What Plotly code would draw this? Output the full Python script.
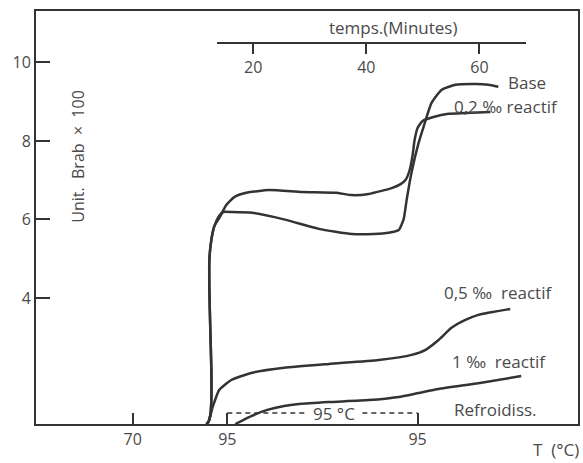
import plotly.graph_objects as go

# ---------------- data (x = time in minutes, y = Unit. Brab x 100) ----------------
base_t = [11.72, 12.07, 12.42, 12.60, 12.60, 12.42, 12.25, 12.25, 12.60, 13.13, 13.83, 14.71,
          16.30, 19.82, 25.81, 31.63, 37.44, 41.32, 43.96, 45.73, 46.61, 47.14, 48.02, 49.25,
          50.13, 51.54, 53.30, 55.77, 59.30, 61.59, 63.35]
base_y = [0.79, 0.84, 1.02, 1.40, 2.17, 3.18, 4.20, 4.97, 5.48, 5.83, 6.06, 6.19,
          6.19, 6.17, 5.99, 5.76, 5.63, 5.63, 5.66, 5.73, 6.01, 6.50, 7.21, 7.95,
          8.36, 8.97, 9.30, 9.43, 9.45, 9.43, 9.38]

r02_t = [11.72, 12.07, 12.42, 12.60, 12.60, 12.42, 12.25, 12.25, 12.60, 13.13, 14.01, 15.24,
         16.65, 18.77, 22.82, 28.63, 34.63, 37.44, 40.44, 44.49, 46.08, 46.96, 47.67, 48.19,
         48.55, 49.07, 49.96, 51.89, 54.54, 57.53, 61.94]
r02_y = [0.79, 0.84, 1.02, 1.40, 2.17, 3.18, 4.20, 4.97, 5.48, 5.83, 6.04, 6.37,
         6.57, 6.68, 6.75, 6.70, 6.68, 6.62, 6.65, 6.80, 6.90, 7.01, 7.26, 7.64,
         8.03, 8.33, 8.51, 8.61, 8.69, 8.71, 8.74]

r05_t = [11.72, 12.07, 12.42, 12.78, 13.13, 14.01, 16.12, 19.65, 25.46, 33.39, 42.20, 48.02,
         50.48, 52.78, 55.07, 57.53, 59.82, 65.46]
r05_y = [0.79, 0.84, 0.99, 1.20, 1.35, 1.66, 1.91, 2.09, 2.22, 2.32, 2.42, 2.55,
         2.68, 2.93, 3.24, 3.44, 3.57, 3.72]

r1_t = [16.83, 18.24, 19.65, 22.47, 25.46, 28.11, 33.39, 40.44, 45.73, 49.25, 52.78, 59.82, 67.40]
r1_y = [0.79, 0.89, 0.99, 1.15, 1.25, 1.30, 1.35, 1.40, 1.48, 1.58, 1.68, 1.83, 2.01]

temp_tick_min = [-1.32, 15.42, 49.07]
temp_tick_text = ["70", "95", "95"]
time_ticks = [20, 40, 60]
y_ticks = [4, 6, 8, 10]

hold_start, hold_end, hold_level = 15.42, 49.07, 1.07
hold_label_min, hold_gap = 34.3, 5.0

x_range = [-18.41, 77.44]
y_range = [0.79, 11.31]
time_axis_range = [13.66, 68.28]

# ---------------- styling ----------------
INK = "#333333"
TXT = "#4a4a4a"
FONT = "Open Sans"

fig = go.Figure()
for t, y in [(base_t, base_y), (r02_t, r02_y), (r05_t, r05_y), (r1_t, r1_y)]:
    fig.add_trace(go.Scatter(x=t, y=y, mode="lines",
                             line=dict(color=INK, width=2.5, shape="spline", smoothing=0.5),
                             showlegend=False, hoverinfo="skip"))

# placeholder trace so the time axis (x2) is drawn
fig.add_trace(go.Scatter(x=time_ticks, y=[None] * len(time_ticks), xaxis="x2", yaxis="y",
                         mode="markers", showlegend=False, hoverinfo="skip"))

axis_common = dict(showline=True, linewidth=2, linecolor=INK, showgrid=False, zeroline=False,
                   tickcolor=INK, tickwidth=1.5, tickfont=dict(family=FONT, size=16, color=TXT))

fig.update_layout(
    width=583, height=463,
    margin=dict(l=36, r=3, t=11, b=39),
    paper_bgcolor="white", plot_bgcolor="rgba(0,0,0,0)",
    font=dict(family=FONT, size=16, color=TXT),
    xaxis=dict(range=x_range, tickvals=temp_tick_min, ticktext=temp_tick_text, ticks="inside",
               ticklen=11, mirror=True, domain=[0, 1], **axis_common),
    yaxis=dict(range=y_range, tickvals=y_ticks, ticks="inside", ticklen=14, mirror=True,
               **axis_common),
    xaxis2=dict(range=time_axis_range, tickvals=time_ticks, ticks="outside", ticklen=10,
                anchor="free", position=(424 - 43) / 413, side="bottom",
                domain=[(218 - 36) / 544, (528 - 36) / 544], **axis_common),
)

# holding-period bracket at 95 °C (dashed, interrupted by its label)
for x0, x1 in [(hold_start, hold_label_min - hold_gap), (hold_label_min + hold_gap, hold_end)]:
    fig.add_shape(type="line", x0=x0, x1=x1, y0=hold_level, y1=hold_level,
                  line=dict(color=INK, width=1.3, dash="5px,4px"))

ann = dict(showarrow=False, font=dict(family=FONT, size=17, color=TXT))
fig.add_annotation(x=hold_label_min, y=hold_level, text="95 °C", **ann)
fig.add_annotation(x=64.76, y=9.50, text="Base", xanchor="left", **ann)
fig.add_annotation(x=55.07, y=8.87, text="0,2 ‰ reactif", xanchor="left", **ann)
fig.add_annotation(x=53.30, y=4.13, text="0,5 ‰  reactif", xanchor="left", **ann)
fig.add_annotation(x=54.89, y=2.37, text="1 ‰  reactif", xanchor="left", **ann)
fig.add_annotation(x=55.07, y=1.15, text="Refroidiss.", xanchor="left", **ann)
fig.add_annotation(x=44.67, y=10.90, text="temps.(Minutes)", **ann)
fig.add_annotation(x=-11.01, y=7.62, text="Unit.  Brab  ×  100", textangle=-90,
                   showarrow=False, font=dict(family=FONT, size=16, color=TXT))
fig.add_annotation(xref="paper", yref="paper", x=1, y=0, xanchor="right", yanchor="bottom",
                   xshift=3, yshift=-39, text="T  (°C)", **ann)

fig.write_html("out.html")
